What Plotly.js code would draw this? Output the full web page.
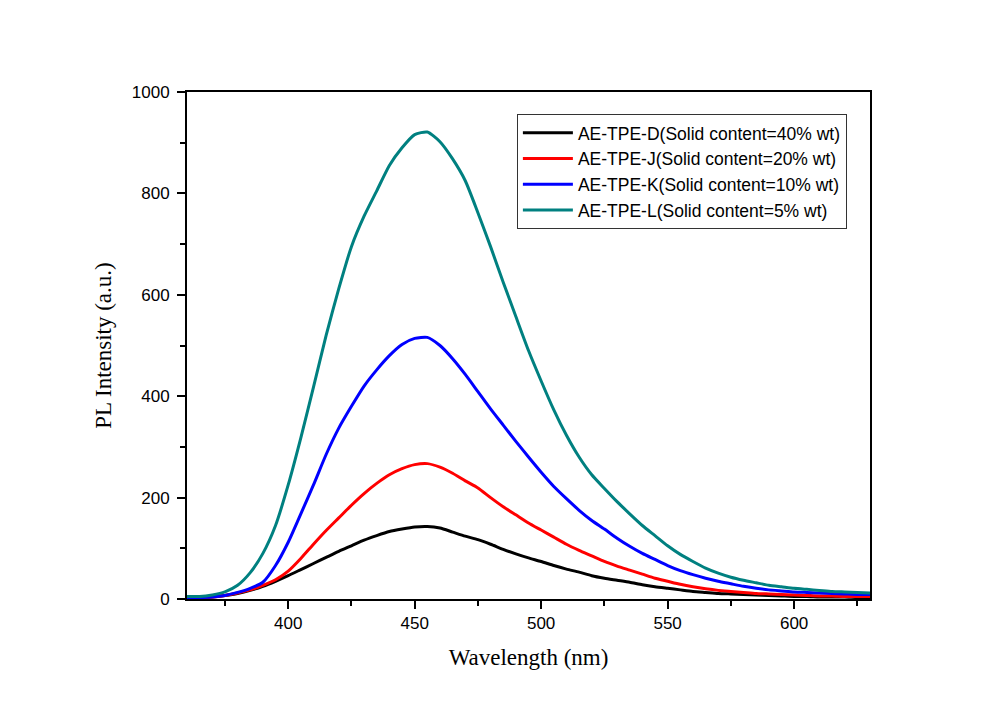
<!DOCTYPE html>
<html>
<head>
<meta charset="utf-8">
<script src="https://cdn.plot.ly/plotly-3.0.1.min.js"></script>
<style>html,body{margin:0;padding:0;background:#fff;}#chart{width:999px;height:705px;}</style>
</head>
<body>
<div id="chart"></div>
<script>
const wavelength = [360,365,370,375,380,385,390,395,400,405,410,415,420,425,430,435,440,445,450,455,460,465,470,475,480,485,490,495,500,505,510,515,520,525,530,535,540,545,550,555,560,565,570,575,580,585,590,595,600,605,610,615,620,625,630];
const seriesNames = ["AE-TPE-D(Solid content=40% wt)","AE-TPE-J(Solid content=20% wt)","AE-TPE-K(Solid content=10% wt)","AE-TPE-L(Solid content=5% wt)"];
const D = [2,3,4,7,11,17,25,35,46,58,70,82,94,105,116,125,133,138,142,143,140,132,124,117,108,98,89,81,74,66,59,53,46,41,37,33,28,24,21,18,15,13,11,10,9,8,7,6,5,5,4,4,4,3,3];
const J = [2,3,4,7,12,18,27,38,55,80,108,135,160,185,208,228,245,257,265,267,260,248,233,219,200,182,166,150,136,122,108,96,85,74,65,57,49,41,35,29,24,20,17,15,13,11,10,9,8,7,6,6,5,5,5];
const K = [2,3,4,7,13,21,33,66,112,168,225,285,337,380,420,452,480,502,514,516,500,474,443,409,375,343,311,280,250,222,198,175,155,138,120,104,90,78,66,56,48,41,35,30,25,21,18,16,14,13,12,11,10,9,9];
const L = [5,5,8,14,27,52,90,145,225,318,418,520,612,695,755,805,855,890,916,921,902,868,825,762,695,625,557,490,430,373,323,280,245,218,192,168,145,125,105,88,74,61,51,43,37,32,27,24,21,19,17,15,14,13,12];
const xTicks = [400,450,500,550,600];
const yTicks = [0,200,400,600,800,1000];
const colors = ["#000000","#ff0000","#0000ff","#008080"];
const values = [D,J,K,L];

const traces = values.map((v,i)=>({
  x: wavelength, y: v, type:'scatter', mode:'lines', name: seriesNames[i],
  line:{color:colors[i], width:3, shape:'spline', smoothing:0.6}
}));

const axisCommon = {
  showline:true, linecolor:'#000', linewidth:2, mirror:true,
  ticks:'outside', ticklen:8, tickwidth:2, tickcolor:'#000',
  showgrid:false, zeroline:false,
  tickfont:{family:'Liberation Sans, Arial, sans-serif', size:17, color:'#000'}
};

const layout = {
  width:999, height:705,
  margin:{l:187, r:129, t:92, b:106},
  paper_bgcolor:'#ffffff', plot_bgcolor:'#ffffff',
  showlegend:true,
  legend:{x:0.483, y:0.957, xanchor:'left', yanchor:'top', bgcolor:'#fff',
    bordercolor:'#333', borderwidth:1, itemwidth:50,
    font:{family:'Liberation Sans, Arial, sans-serif', size:17.5, color:'#000'},
    tracegroupgap:0},
  xaxis: Object.assign({}, axisCommon, {
    range:[360,630], tickvals:xTicks, ticktext:xTicks.map(String),
    minor:{dtick:25, tick0:0, ticks:'outside', ticklen:5, tickwidth:2, tickcolor:'#000'},
    title:{text:'Wavelength (nm)', font:{family:'Liberation Serif, Times New Roman, serif', size:23, color:'#000'}, standoff:16}
  }),
  yaxis: Object.assign({}, axisCommon, {
    range:[0,1000], tickvals:yTicks, ticktext:yTicks.map(String), ticklabelstandoff:4,
    minor:{dtick:100, tick0:0, ticks:'outside', ticklen:5, tickwidth:2, tickcolor:'#000'},
    title:{text:'PL Intensity (a.u.)', font:{family:'Liberation Serif, Times New Roman, serif', size:23, color:'#000'}, standoff:14}
  })
};

Plotly.newPlot('chart', traces, layout, {displayModeBar:false, staticPlot:true});
</script>
</body>
</html>
